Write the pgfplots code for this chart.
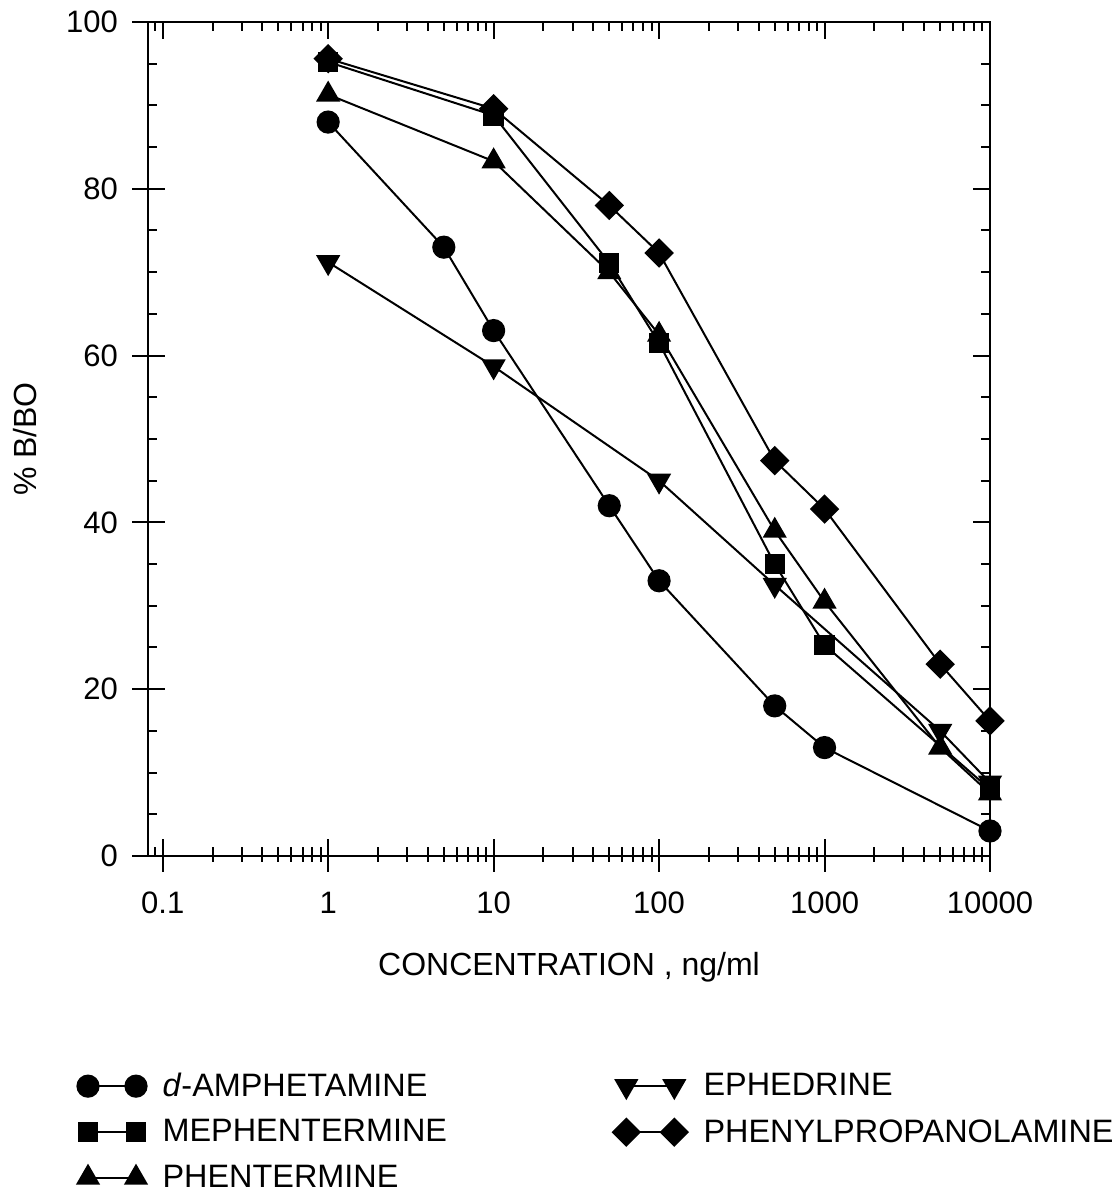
\documentclass[border=0pt]{standalone}
\usepackage{pgfplots}
\pgfplotsset{compat=1.18}
\usepackage{fontspec}
\setmainfont{Liberation Sans}
\begin{document}
\begin{tikzpicture}
\useasboundingbox (0,0) rectangle (559pt,597.5pt);
% outer halves of major ticks (bottom and left)
\begin{axis}[
  at={(74pt,169.5pt)}, anchor=south west,
  scale only axis, width=421pt, height=417pt,
  xmode=log, xmin=0.0815, xmax=10000, ymin=0, ymax=100,
  xtick={0.1,1,10,100,1000,10000},
  ytick={0,20,40,60,80,100},
  axis line style={draw=none},
  xtick pos=bottom, ytick pos=left,
  tick align=outside, major tick length=8pt,
  minor tick num=0, minor xtick={}, 
  xticklabels={}, yticklabels={},
  tick style={line width=1pt, black},
]
\end{axis}
\begin{axis}[
  at={(74pt,169.5pt)}, anchor=south west,
  scale only axis, width=421pt, height=417pt,
  xmode=log, xmin=0.0815, xmax=10000, ymin=0, ymax=100,
  xtick={0.1,1,10,100,1000,10000},
  ytick={0,20,40,60,80,100},
  axis line style={line width=1pt},
  tick align=inside,
  major tick length=8.5pt, minor tick length=4.5pt,
  tick style={line width=1pt, black},
  minor ytick={5,10,15,25,30,35,45,50,55,65,70,75,85,90,95},
  minor xtick={0.09,0.2,0.3,0.4,0.5,0.6,0.7,0.8,0.9,2,3,4,5,6,7,8,9,20,30,40,50,60,70,80,90,200,300,400,500,600,700,800,900,2000,3000,4000,5000,6000,7000,8000,9000},
  xticklabels={0.1,1,10,100,1000,10000},
  yticklabels={0,20,40,60,80,100},
  /pgf/number format/assume math mode=true,
  tick label style={font=\fontsize{15.5}{18}\selectfont},
  every x tick label/.append style={yshift=-14.5pt},
  every y tick label/.append style={xshift=-11.5pt},
  xlabel={CONCENTRATION , ng/ml},
  ylabel={\% B/BO},
  label style={font=\fontsize{16}{19}\selectfont},
  xlabel style={at={(axis description cs:0.5,-0.1427)}, anchor=base},
  ylabel style={at={(axis description cs:-0.132,0.5)}, anchor=base},
  every axis plot/.append style={black, line width=1pt, mark options={solid}},
  legend columns=2,
  legend cell align=left,
  legend image code/.code={\draw[#1] plot coordinates {(0pt,0pt) (24pt,0pt)};},
  legend style={draw=none, fill=none, inner sep=0pt,
    at={(axis description cs:-0.0843,-0.2548)}, anchor=north west,
    font=\fontsize{16.2}{19}\selectfont,
    row sep=6pt,
    /tikz/every odd column/.append style={column sep=6pt},
    /tikz/every even column/.append style={column sep=81pt}},
]
% d-AMPHETAMINE
\addplot[mark=*, mark size=5.3pt] coordinates {
(1,88) (5,73) (10,63) (50,42) (100,33) (500,18) (1000,13) (10000,3)};
\addlegendentry{\textit{d}-AMPHETAMINE}
% EPHEDRINE
\addplot[mark=triangle*, mark size=6pt, mark options={rotate=180}] coordinates {
(1,71.2) (10,58.7) (100,45) (500,32.5) (5000,15) (10000,8.8)};
\addlegendentry{EPHEDRINE}
% MEPHENTERMINE
\addplot[mark=square*, mark size=4.6pt] coordinates {
(1,95.2) (10,88.8) (50,71.1) (100,61.5) (500,35) (1000,25.3) (10000,8)};
\addlegendentry{MEPHENTERMINE}
% PHENYLPROPANOLAMINE
\addplot[mark=square*, mark size=4.7pt, mark options={rotate=45}] coordinates {
(1,95.6) (10,89.6) (50,78) (100,72.3) (500,47.4) (1000,41.6) (5000,23) (10000,16.2)};
\addlegendentry{PHENYLPROPANOLAMINE}
% PHENTERMINE
\addplot[mark=triangle*, mark size=6pt] coordinates {
(1,91.3) (10,83.3) (50,70) (100,62.5) (500,39) (1000,30.5) (5000,13) (10000,7.5)};
\addlegendentry{PHENTERMINE}
\end{axis}
\end{tikzpicture}
\end{document}
